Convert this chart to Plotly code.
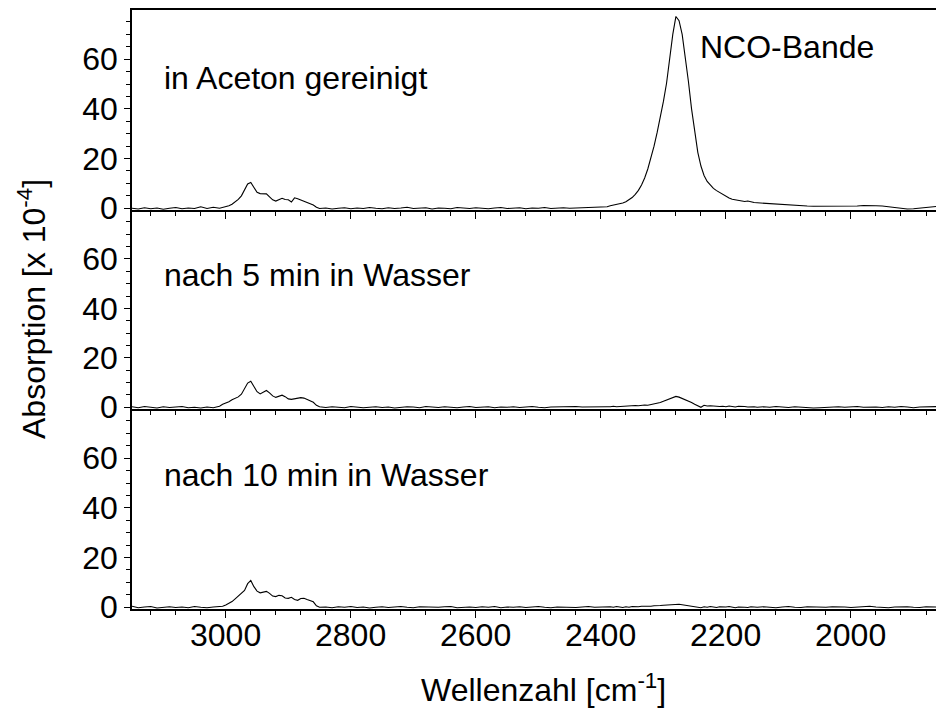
import plotly.graph_objects as go

# Wavenumber sampling (cm^-1), descending; denser around the C-H and NCO bands
wn_a = [3150, 3140, 3130, 3120, 3110, 3100, 3090, 3080, 3070, 3060, 3050, 3040, 3030, 3020, 3010]
wn_b = [3005, 3000, 2995, 2990, 2985, 2980, 2975, 2970, 2965, 2960, 2955, 2950, 2945, 2940, 2935, 2930,
        2925, 2920, 2915, 2910, 2905, 2900, 2895, 2890, 2885, 2880, 2875, 2870, 2865, 2860, 2855, 2850]
wn_c = [2840, 2830, 2820, 2810, 2800, 2790, 2780, 2770, 2760, 2750, 2740, 2730, 2720, 2710, 2700, 2690,
        2680, 2670, 2660, 2650, 2640, 2630, 2620, 2610, 2600, 2590, 2580, 2570, 2560, 2550, 2540, 2530,
        2520, 2510, 2500, 2490, 2480, 2470, 2460, 2450, 2440, 2430, 2420, 2410, 2400, 2390]
wn_d = [2385, 2380, 2375, 2370, 2365, 2360, 2355, 2350, 2345, 2340, 2335, 2330, 2325, 2320, 2315, 2310,
        2305, 2300, 2295, 2290, 2285, 2280, 2275, 2270, 2265, 2260, 2255, 2250, 2245, 2240, 2235, 2230,
        2225, 2220, 2215, 2210, 2205, 2200, 2195, 2190, 2185, 2180, 2175, 2170, 2165, 2160, 2155, 2150]
wn_e = [2140, 2130, 2120, 2110, 2100, 2090, 2080, 2070, 2060, 2050, 2040, 2030, 2020, 2010, 2000, 1990,
        1980, 1970, 1960, 1950, 1940, 1930, 1920, 1910, 1900, 1890, 1880, 1870, 1860]
wavenumber = wn_a + wn_b + wn_c + wn_d + wn_e

# Absorption [x 1e-4], sample cleaned in acetone
aceton = (
    [0.0, -0.3, 0.2, -0.2, 0.1, -0.4, 0.0, 0.3, -0.2, 0.1, -0.1, 0.6, -0.1, 0.4, 0.0]
    + [0.3, 0.5, 1.0, 1.6, 2.6, 3.6, 5.0, 7.4, 9.8, 10.4, 8.2, 6.4, 5.9, 6.0, 5.8, 4.6,
       3.4, 2.9, 3.6, 4.0, 3.5, 3.4, 2.5, 4.2, 3.8, 3.3, 2.9, 2.4, 1.9, 1.3, 0.4, -0.1]
    + [0.1, -0.3, 0.0, 0.2, -0.2, 0.1, -0.1, 0.3, 0.0, -0.2, 0.2, -0.1, 0.1, 0.4, -0.1, 0.0,
       0.2, -0.3, 0.1, 0.0, -0.2, 0.3, 0.1, -0.1, 0.2, 0.0, -0.2, 0.1, 0.3, -0.1, 0.0, 0.2,
       -0.2, 0.1, 0.0, 0.3, -0.1, 0.1, 0.2, 0.0, 0.1, 0.3, 0.2, 0.4, 0.5, 0.6]
    + [1.0, 1.2, 1.4, 1.7, 2.1, 2.6, 3.3, 4.3, 5.6, 7.2, 9.4, 12.2, 15.8, 20.0, 25.0, 30.5,
       36.5, 43.0, 50.3, 60.0, 70.0, 77.2, 75.5, 70.0, 61.0, 51.0, 40.0, 30.5, 22.5, 17.0, 13.2, 10.8,
       9.2, 8.0, 7.1, 6.3, 5.5, 4.8, 4.1, 3.6, 3.3, 3.0, 2.8, 2.7, 2.9, 2.5, 2.3, 2.2]
    + [2.0, 1.9, 1.6, 1.4, 1.2, 1.1, 1.0, 0.9, 0.8, 0.8, 0.7, 0.8, 0.6, 0.7, 0.8, 0.9,
       1.1, 1.2, 1.0, 0.9, 0.6, 0.3, 0.0, -0.3, -0.2, 0.1, 0.4, 0.6, 0.8]
)

# After 5 min in water
wasser_5 = (
    [0.2, -0.2, 0.3, 0.0, -0.3, 0.2, -0.1, 0.1, 0.3, -0.2, 0.0, -0.3, 0.1, -0.2, 0.4]
    + [1.2, 1.6, 2.2, 3.0, 3.6, 4.2, 5.3, 7.5, 9.8, 10.5, 8.6, 6.3, 5.4, 6.2, 6.8, 5.8,
       4.6, 4.0, 4.3, 4.9, 4.3, 3.4, 3.2, 3.5, 3.7, 3.9, 3.7, 3.2, 2.8, 2.0, 0.8, 0.2]
    + [-0.1, 0.2, 0.0, -0.2, 0.3, 0.1, -0.2, 0.0, 0.2, -0.1, 0.1, -0.3, 0.0, 0.2, 0.1, -0.2,
       0.3, 0.0, -0.1, 0.2, 0.0, -0.2, 0.1, 0.3, -0.1, 0.0, 0.2, -0.2, 0.1, 0.0, 0.2, -0.1,
       0.1, 0.3, 0.0, -0.2, 0.1, 0.2, 0.0, 0.1, 0.3, 0.1, 0.2, 0.0, 0.3, 0.2]
    + [0.2, 0.4, 0.2, 0.3, 0.5, 0.3, 0.6, 0.5, 0.7, 0.6, 0.8, 0.9, 0.8, 1.0, 1.2, 1.5,
       1.9, 2.4, 2.9, 3.4, 4.0, 4.4, 4.1, 3.6, 3.0, 2.5, 1.9, 1.2, 0.6, 0.0, 0.8, 0.5,
       0.6, 0.4, 0.5, 0.3, 0.4, 0.2, 0.5, 0.3, 0.1, 0.4, 0.2, 0.3, 0.1, 0.3, 0.2, 0.0]
    + [0.2, 0.0, 0.3, 0.1, -0.1, 0.2, 0.0, -0.2, -0.3, -0.2, 0.0, 0.1, 0.2, 0.0, 0.1, 0.3,
       0.0, 0.2, 0.1, -0.1, 0.2, 0.0, 0.3, 0.1, -0.2, 0.1, 0.2, 0.0, 0.3]
)

# After 10 min in water
wasser_10 = (
    [0.4, -0.2, 0.1, 0.3, -0.3, 0.0, 0.2, -0.1, 0.1, -0.2, 0.3, 0.0, -0.2, 0.1, 0.2]
    + [0.4, 0.9, 1.5, 2.3, 3.4, 4.5, 5.6, 6.8, 9.5, 10.8, 8.3, 6.5, 5.8, 6.0, 6.4, 5.6,
       4.5, 4.3, 4.8, 4.6, 3.7, 3.6, 4.0, 3.1, 2.8, 3.5, 3.6, 3.1, 2.8, 2.2, 0.6, 0.0]
    + [0.1, -0.2, 0.2, 0.0, 0.3, -0.1, 0.1, -0.3, 0.0, 0.2, -0.1, 0.1, 0.3, 0.0, -0.2, 0.2,
       0.1, -0.1, 0.0, 0.2, 0.3, -0.2, 0.0, 0.1, -0.1, 0.2, 0.0, 0.3, -0.2, 0.1, 0.0, 0.2,
       -0.1, 0.1, 0.3, 0.0, -0.2, 0.1, 0.0, 0.2, -0.1, 0.1, 0.3, 0.0, 0.2, 0.1]
    + [0.2, 0.0, 0.3, 0.1, -0.1, 0.2, 0.0, 0.3, 0.1, 0.2, 0.4, 0.3, 0.5, 0.4, 0.6, 0.5,
       0.7, 0.8, 0.9, 1.0, 1.2, 1.3, 1.2, 1.0, 0.8, 0.7, 0.5, 0.3, 0.1, -0.2, 0.2, 0.0,
       0.3, 0.1, -0.1, 0.2, 0.0, 0.1, 0.3, 0.0, -0.2, 0.1, 0.2, 0.0, -0.1, 0.2, 0.1, 0.0]
    + [0.2, 0.0, -0.2, 0.1, 0.3, 0.0, -0.1, 0.2, 0.1, -0.2, 0.0, 0.2, 0.3, 0.1, -0.1, 0.0,
       0.2, 0.4, 0.1, 0.0, -0.2, 0.1, 0.3, 0.2, 0.0, -0.1, 0.2, 0.3, 0.1]
)

spectra = [aceton, wasser_5, wasser_10]
panel_labels = ["in Aceton gereinigt", "nach 5 min in Wasser", "nach 10 min in Wasser"]
y_ticks = [0, 20, 40, 60]
x_ticks = [3000, 2800, 2600, 2400, 2200, 2000]

FONT = "Liberation Sans, Arial, sans-serif"
FS = 32
W, H = 936, 713
ML, MR, MT, MB = 132, 0, 10, 104
plot_h = H - MT - MB
# panel heights in pixels, top to bottom
panel_px = [200, 199, 200]

fig = go.Figure()

bottoms = []
acc = 0
for h in reversed(panel_px):
    bottoms.append(acc)
    acc += h
bottoms = list(reversed(bottoms))  # pixel offset of each panel bottom from plot bottom

for i, y in enumerate(spectra):
    n = i + 1
    fig.add_trace(go.Scatter(
        x=wavenumber, y=y, mode="lines",
        line=dict(color="black", width=1.1),
        xaxis=f"x{n}" if n > 1 else "x", yaxis=f"y{n}" if n > 1 else "y",
        showlegend=False, hoverinfo="skip",
    ))
    d0 = bottoms[i] / plot_h
    d1 = (bottoms[i] + panel_px[i]) / plot_h
    xkey = "xaxis" if n == 1 else f"xaxis{n}"
    ykey = "yaxis" if n == 1 else f"yaxis{n}"
    fig.layout[xkey] = dict(
        range=[3150, 1864], domain=[0, 1], anchor="y" if n == 1 else f"y{n}",
        matches="x" if n > 1 else None,
        showline=True, linecolor="black", linewidth=1.5,
        mirror=(n == 1),
        ticks="outside", ticklen=7, tickwidth=1.3, tickcolor="black",
        tickvals=x_ticks, showticklabels=False,
        minor=dict(dtick=40, tick0=2000, ticks="outside", ticklen=4,
                   tickwidth=1.1, tickcolor="black", showgrid=False),
        showgrid=False, zeroline=False,
    )
    fig.layout[ykey] = dict(
        range=[-0.7, 79.8], domain=[d0, d1], anchor="x" if n == 1 else f"x{n}",
        showline=True, linecolor="black", linewidth=1.5,
        ticks="outside", ticklen=6, tickwidth=1.3, tickcolor="black",
        tickvals=y_ticks,
        tickfont=dict(family=FONT, size=FS, color="black"),
        minor=dict(dtick=5, tick0=0, ticks="outside", ticklen=4,
                   tickwidth=1.1, tickcolor="black", showgrid=False),
        showgrid=False, zeroline=False,
    )


def px_to_paper(px, py):
    return (px - ML) / (W - ML - MR), (H - MB - py) / plot_h


annotations = []

# wavenumber tick labels under the bottom panel, placed on the x3 scale
_, tick_y = px_to_paper(0, 635)
for tv in x_ticks:
    annotations.append(dict(text=str(tv), x=tv, y=tick_y, xref="x3", yref="paper",
                            xanchor="center", yanchor="middle", showarrow=False,
                            font=dict(family=FONT, size=FS, color="black")))

label_centers_y = [78, 275, 475]
for text, cy in zip(panel_labels, label_centers_y):
    ax, ay = px_to_paper(162, cy)
    annotations.append(dict(text=text, x=ax, y=ay, xref="paper", yref="paper",
                            xanchor="left", yanchor="middle", showarrow=False,
                            font=dict(family=FONT, size=FS, color="black")))

ax, ay = px_to_paper(698, 47)
annotations.append(dict(text="NCO-Bande", x=ax, y=ay, xref="paper", yref="paper",
                        xanchor="left", yanchor="middle", showarrow=False,
                        font=dict(family=FONT, size=FS, color="black")))

ax, ay = px_to_paper(543, 688)
annotations.append(dict(text="Wellenzahl [cm<sup>-1</sup>]", x=ax, y=ay,
                        xref="paper", yref="paper", xanchor="center", yanchor="middle",
                        showarrow=False, font=dict(family=FONT, size=FS, color="black")))

ax, ay = px_to_paper(32, 309)
annotations.append(dict(text="Absorption [x 10<sup>-4</sup>]", x=ax, y=ay, textangle=-90,
                        xref="paper", yref="paper", xanchor="center", yanchor="middle",
                        showarrow=False, font=dict(family=FONT, size=FS, color="black")))

fig.update_layout(
    width=W, height=H,
    margin=dict(l=ML, r=MR, t=MT, b=MB),
    paper_bgcolor="white", plot_bgcolor="white",
    annotations=annotations,
    font=dict(family=FONT, size=FS, color="black"),
)

fig.write_html("out.html")
